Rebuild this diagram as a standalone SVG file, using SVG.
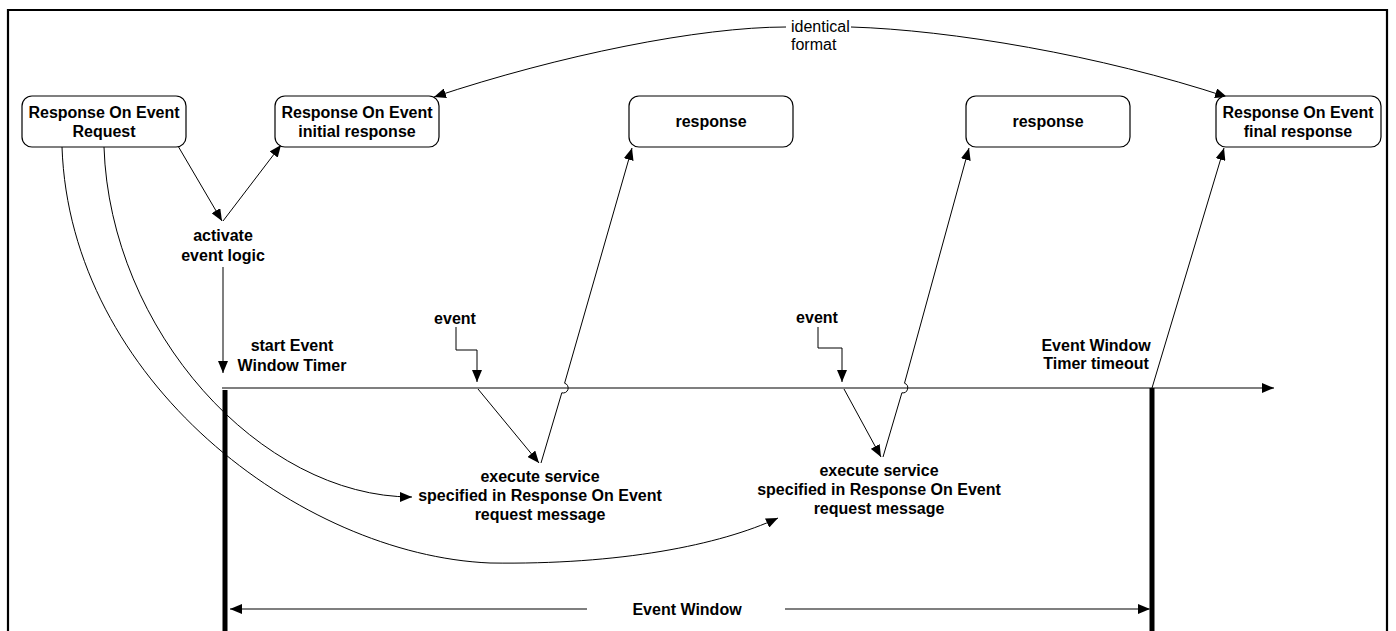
<svg xmlns="http://www.w3.org/2000/svg" width="1396" height="631" viewBox="0 0 1396 631">
<defs>
<style>
.box{fill:#fff;stroke:#000;stroke-width:1.2}
.t{font-family:"Liberation Sans",Arial,sans-serif;font-size:16px;font-weight:bold;fill:#000;text-anchor:middle}
.n{font-family:"Liberation Sans",Arial,sans-serif;font-size:16px;fill:#000}
.c{fill:none;stroke:#000;stroke-width:1}
.g{fill:none;stroke:#555;stroke-width:1.5}
.bar{stroke:#000;stroke-width:5}
</style>
<marker id="ah" markerUnits="userSpaceOnUse" markerWidth="12" markerHeight="10" refX="12" refY="5" orient="auto" viewBox="0 0 12 10">
<path d="M0,0 L12,5 L0,10 z" fill="#000"/>
</marker>
</defs>
<rect width="1396" height="631" fill="#fff"/>
<path d="M8 640 V10 H1387 V640" fill="none" stroke="#000" stroke-width="2.2"/>

<g id="connectors">
<path class="c" d="M178 146 L222 221" marker-end="url(#ah)"/>
<path class="c" d="M223 221 L281 145" marker-end="url(#ah)"/>
<path class="g" d="M223 267 V373" marker-end="url(#ah)"/>
<path class="g" d="M222 388 H1274" marker-end="url(#ah)"/>
<path class="bar" d="M225 390 V631"/>
<path class="bar" d="M1152 388 V631"/>
<path class="c" d="M786 27 C700 27 560 55 434 97" marker-end="url(#ah)"/>
<path class="c" d="M851 27 C950 30 1100 55 1227 97" marker-end="url(#ah)"/>
<path class="c" d="M456 327 V350 H477 V382" marker-end="url(#ah)"/>
<path class="c" d="M818 327 V348 H842 V382" marker-end="url(#ah)"/>
<path class="c" d="M478 389 L539 463" marker-end="url(#ah)"/>
<path class="c" d="M844 389 L881 457" marker-end="url(#ah)"/>
<path class="c" d="M541 463 L561.8 392.8 A5 5 0 0 0 564.6 383.2 L632 148" marker-end="url(#ah)"/>
<path class="c" d="M883 457 L901.9 392.8 A5 5 0 0 0 904.5 383.2 L969 148" marker-end="url(#ah)"/>
<path class="c" d="M1152 388 L1224 148" marker-end="url(#ah)"/>
<path class="c" d="M104 147 C110 330 260 497 412 497" marker-end="url(#ah)"/>
<path class="c" d="M62 147 C70 380 300 555 490 563 C620 565 720 545 778 518" marker-end="url(#ah)"/>
<path class="g" d="M587 609 H230" stroke-width="1.2" marker-end="url(#ah)"/>
<path class="g" d="M785 609 H1150" stroke-width="1.2" marker-end="url(#ah)"/>
</g>

<g id="n-request">
<rect class="box" x="22" y="96" width="164" height="51" rx="10"/>
<text class="t" x="104" y="118">Response On Event</text>
<text class="t" x="104" y="137">Request</text>
</g>
<g id="n-initial">
<rect class="box" x="275" y="96" width="164" height="51" rx="10"/>
<text class="t" x="357" y="118">Response On Event</text>
<text class="t" x="357" y="137">initial response</text>
</g>
<g id="n-response1">
<rect class="box" x="629" y="96" width="164" height="51" rx="10"/>
<text class="t" x="711" y="127">response</text>
</g>
<g id="n-response2">
<rect class="box" x="966" y="96" width="164" height="51" rx="10"/>
<text class="t" x="1048" y="127">response</text>
</g>
<g id="n-final">
<rect class="box" x="1216" y="96" width="165" height="51" rx="10"/>
<text class="t" x="1298" y="118">Response On Event</text>
<text class="t" x="1298" y="137">final response</text>
</g>
<g id="n-identical">
<text class="n" x="791" y="32">identical</text>
<text class="n" x="791" y="50">format</text>
</g>
<g id="n-activate">
<text class="t" x="223" y="241">activate</text>
<text class="t" x="223" y="261">event logic</text>
</g>
<g id="n-start">
<text class="t" x="292" y="351">start Event</text>
<text class="t" x="292" y="371">Window Timer</text>
</g>
<g id="n-event1">
<text class="t" x="455" y="324">event</text>
</g>
<g id="n-event2">
<text class="t" x="817" y="323">event</text>
</g>
<g id="n-exec1">
<text class="t" x="540" y="482">execute service</text>
<text class="t" x="540" y="501">specified in Response On Event</text>
<text class="t" x="540" y="520">request message</text>
</g>
<g id="n-exec2">
<text class="t" x="879" y="476">execute service</text>
<text class="t" x="879" y="495">specified in Response On Event</text>
<text class="t" x="879" y="514">request message</text>
</g>
<g id="n-timeout">
<text class="t" x="1096" y="351">Event Window</text>
<text class="t" x="1096" y="369">Timer timeout</text>
</g>
<g id="n-window">
<text class="t" x="687" y="615">Event Window</text>
</g>
</svg>
